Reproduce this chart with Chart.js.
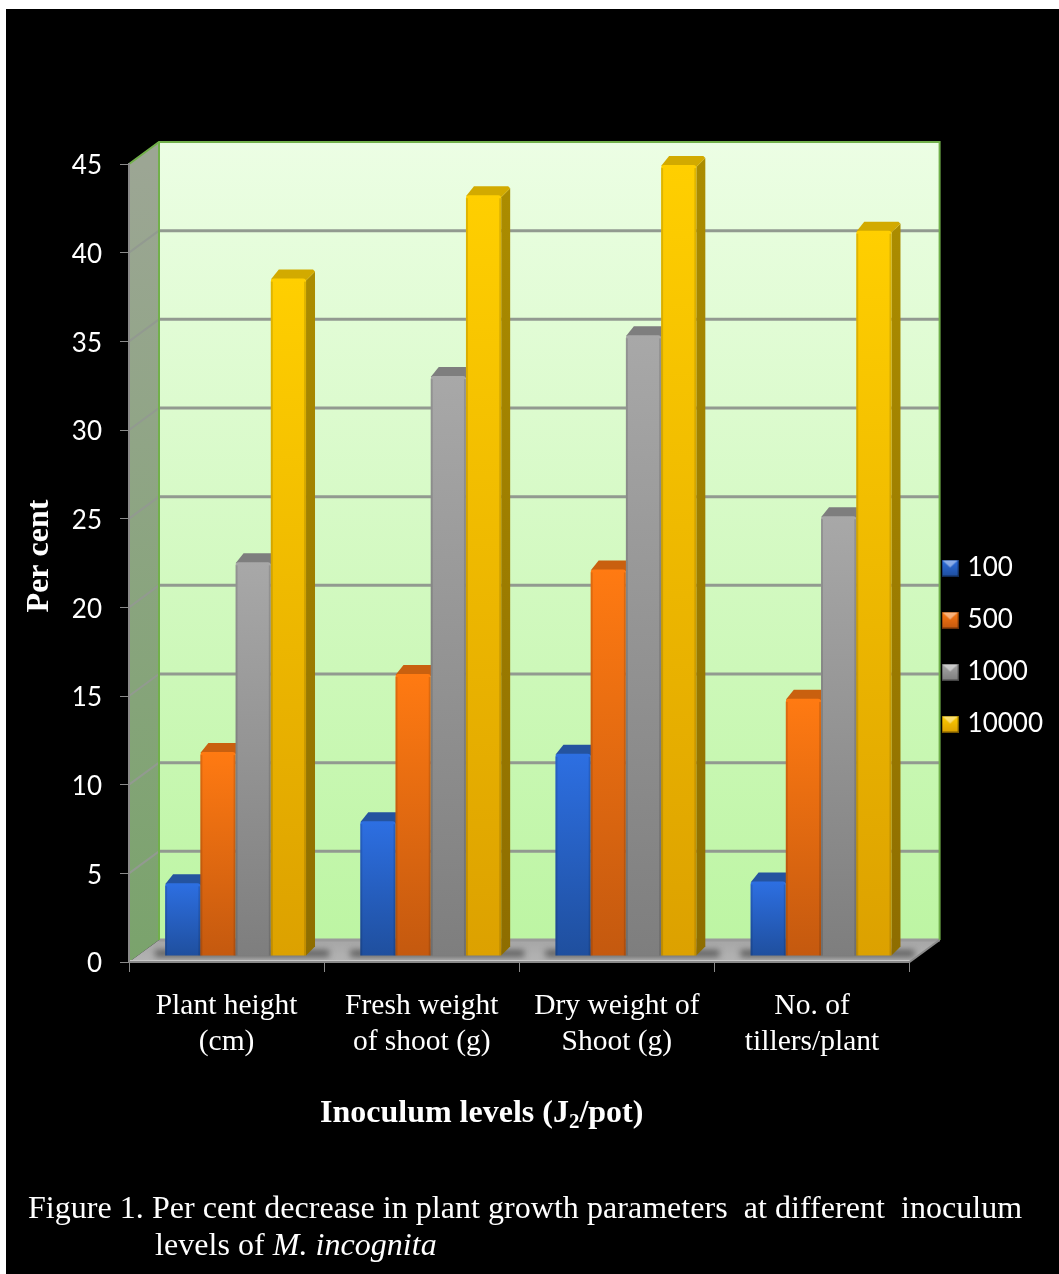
<!DOCTYPE html>
<html>
<head>
<meta charset="utf-8">
<script src="https://cdn.jsdelivr.net/npm/chart.js@4"></script>
<style>
  html, body { margin: 0; padding: 0; background: #fff; overflow: hidden; }
  #frame { position: absolute; left: 6px; top: 9px; width: 1053px; height: 1265px; background: #000; }
  #plot { position: absolute; left: 0; top: 0; display: block; }
  .caption { position: absolute; color: #fff; font-family: "Liberation Serif", serif; font-size: 32px; letter-spacing: 0.04px; line-height: 36px; white-space: pre; }
</style>
</head>
<body>
<div id="frame"></div>
<canvas id="plot" width="1059" height="1274"></canvas>
<div class="caption" style="left:28px; top:1189px;">Figure 1. Per cent decrease in plant growth parameters  at different  inoculum</div>
<div class="caption" style="left:155px; top:1226px;">levels of <i>M. incognita</i></div>
<script>
// Chart content
const categories = [["Plant height", "(cm)"], ["Fresh weight", "of shoot (g)"], ["Dry weight of", "Shoot (g)"], ["No. of", "tillers/plant"]];
const seriesNames = ["100", "500", "1000", "10000"];
const values100 = [4.1, 7.6, 11.4, 4.2];
const values500 = [11.5, 15.9, 21.8, 14.5];
const values1000 = [22.2, 32.7, 35.0, 24.8];
const values10000 = [38.2, 42.9, 44.6, 40.9];
const yTicks = [0, 5, 10, 15, 20, 25, 30, 35, 40, 45];

// Face colours per series: front top, front bottom, side top, side bottom, cap
const palette = [
  ["#2d6fe2", "#1f4f9e", "#1c4a96", "#173c7c", "#24539f"],
  ["#ff7a12", "#c4590f", "#b85410", "#97450d", "#c9600f"],
  ["#a8a8a8", "#7e7e7e", "#6f6f6f", "#5c5c5c", "#7e7e7e"],
  ["#ffcf00", "#dca100", "#ab8c00", "#8e6d00", "#d2aa00"]
];

// Depth of the box and of each bar, in pixels
const WALL_DX = 30, WALL_DY = -22;
const BAR_SHIFT_X = 9, BAR_SHIFT_Y = -6;
const BAR_DX = 9, BAR_DY = -9;

function swatch(colors) {
  const c = document.createElement("canvas");
  c.width = 17; c.height = 17;
  const g = c.getContext("2d");
  const body = g.createLinearGradient(0, 0, 0, 17);
  body.addColorStop(0, colors[0]);
  body.addColorStop(1, colors[1]);
  g.fillStyle = body;
  g.fillRect(0, 0, 17, 17);
  g.fillStyle = "rgba(255,255,255,0.45)";
  g.beginPath(); g.moveTo(1, 1); g.lineTo(16, 1); g.lineTo(8.5, 8); g.closePath(); g.fill();
  g.strokeStyle = "rgba(0,0,0,0.45)";
  g.strokeRect(0.5, 0.5, 16, 16);
  return c;
}

function poly(ctx, pts, fill) {
  ctx.beginPath();
  pts.forEach((p, i) => i ? ctx.lineTo(p[0], p[1]) : ctx.moveTo(p[0], p[1]));
  ctx.closePath();
  ctx.fillStyle = fill;
  ctx.fill();
}

function vGradient(ctx, y0, y1, a, b) {
  const g = ctx.createLinearGradient(0, y0, 0, y1);
  g.addColorStop(0, a);
  g.addColorStop(1, b);
  return g;
}

// Back wall, side wall and floor, placed from the value scale
const boxPlugin = {
  id: "box3d",
  beforeDraw(chart) {
    const { ctx, chartArea: a, scales: { y } } = chart;
    chart.legend.left = a.right + 10;
    const L = a.left, R = a.right, T = y.getPixelForValue(45), B = y.getPixelForValue(0);
    const dx = WALL_DX, dy = WALL_DY;
    ctx.save();
    poly(ctx, [[L + dx, T + dy], [R + dx, T + dy], [R + dx, B + dy], [L + dx, B + dy]],
      vGradient(ctx, T + dy, B + dy, "#ecfee4", "#bdf5a3"));
    poly(ctx, [[L, T], [L + dx, T + dy], [L + dx, B + dy], [L, B]],
      vGradient(ctx, T, B, "#9ca694", "#7aa36c"));
    poly(ctx, [[L, B], [L + dx, B + dy], [R + dx, B + dy], [R, B]],
      vGradient(ctx, B + dy, B, "#a6a6a6", "#b4b4b4"));
    // Contact shadows between bar groups on the floor
    ctx.save();
    ctx.filter = "blur(3px)";
    const meta = chart.getDatasetMeta(0).data;
    const last = chart.getDatasetMeta(3).data;
    meta.forEach((bar, i) => {
      const left = bar.x - bar.width / 2 + BAR_SHIFT_X;
      const right = last[i].x + last[i].width / 2 + BAR_SHIFT_X + BAR_DX;
      ctx.fillStyle = "rgba(40,40,40,0.6)";
      ctx.fillRect(left - 10, B - 12, right - left + 24, 7);
    });
    ctx.restore();
    // Front lip of the floor
    ctx.strokeStyle = "#c8c8c8";
    ctx.lineWidth = 2;
    ctx.beginPath(); ctx.moveTo(L, B - 1); ctx.lineTo(R, B - 1); ctx.stroke();
    // Grid lines across both walls
    ctx.strokeStyle = "#929a90";
    yTicks.forEach(v => {
      if (v === 0 || v === 45) return;
      const py = y.getPixelForValue(v);
      ctx.lineWidth = 2;
      ctx.beginPath(); ctx.moveTo(L, py); ctx.lineTo(L + dx, py + dy); ctx.stroke();
      ctx.lineWidth = 3;
      ctx.beginPath(); ctx.moveTo(L + dx, py + dy); ctx.lineTo(R + dx, py + dy); ctx.stroke();
    });
    ctx.strokeStyle = "#9a9a9a";
    ctx.lineWidth = 3;
    ctx.beginPath(); ctx.moveTo(L + dx, B + dy); ctx.lineTo(R + dx, B + dy); ctx.stroke();
    // Green outline of the walls
    ctx.strokeStyle = "#71b04a";
    ctx.lineWidth = 2;
    ctx.beginPath();
    ctx.moveTo(L, T); ctx.lineTo(L + dx, T + dy); ctx.lineTo(R + dx, T + dy); ctx.lineTo(R + dx, B + dy);
    ctx.moveTo(L + dx, T + dy); ctx.lineTo(L + dx, B + dy);
    ctx.stroke();
    ctx.strokeStyle = "#8a8a8a";
    ctx.beginPath(); ctx.moveTo(R, B); ctx.lineTo(R + dx, B + dy); ctx.stroke();
    ctx.restore();
  },
  // Bars go left to right so each one covers its neighbour's side face
  beforeDatasetsDraw(chart) {
    const { ctx } = chart;
    ctx.save();
    ctx.translate(BAR_SHIFT_X, BAR_SHIFT_Y);
    const n = chart.data.labels.length;
    for (let i = 0; i < n; i++) {
      chart.data.datasets.forEach((ds, d) => {
        const bar = chart.getDatasetMeta(d).data[i];
        const c = palette[d];
        const l = bar.x - bar.width / 2, r = bar.x + bar.width / 2;
        poly(ctx, [[r, bar.y + 2], [r + BAR_DX, bar.y + BAR_DY + 2], [r + BAR_DX, bar.base + BAR_DY], [r, bar.base]],
          vGradient(ctx, bar.y, bar.base, c[2], c[3]));
        poly(ctx, [[l, bar.y + 1], [l + BAR_DX - 1, bar.y + BAR_DY], [r + BAR_DX - 2, bar.y + BAR_DY], [r + BAR_DX, bar.y + BAR_DY + 2], [r, bar.y + 2]], c[4]);
        bar.draw(ctx);
        ctx.fillStyle = "rgba(0,0,0,0.12)";
        ctx.fillRect(l, bar.y + 3, 2, bar.base - bar.y - 3);
        ctx.fillRect(r - 2, bar.y + 3, 2, bar.base - bar.y - 3);
      });
    }
    ctx.restore();
    return false;
  },
  // Axis titles, the horizontal one carrying a subscript
  afterDraw(chart) {
    const { ctx } = chart;
    ctx.save();
    ctx.fillStyle = "#fff";
    ctx.textBaseline = "alphabetic";
    ctx.font = 'bold 32px "Liberation Serif"';
    ctx.save();
    ctx.translate(48, 556);
    ctx.rotate(-Math.PI / 2);
    ctx.textAlign = "center";
    ctx.fillText("Per cent", 0, 0);
    ctx.restore();
    ctx.textAlign = "left";
    const parts = ["Inoculum levels (J", "2", "/pot)"];
    let x = 320;
    ctx.fillText(parts[0], x, 1122);
    x += ctx.measureText(parts[0]).width;
    ctx.font = 'bold 21px "Liberation Serif"';
    ctx.fillText(parts[1], x, 1128);
    x += ctx.measureText(parts[1]).width;
    ctx.font = 'bold 32px "Liberation Serif"';
    ctx.fillText(parts[2], x, 1122);
    ctx.restore();
  }
};

function makeDataset(name, values, index) {
  return {
    label: name,
    data: values,
    borderWidth: 0,
    borderRadius: { topLeft: 3, topRight: 3, bottomLeft: 0, bottomRight: 0 },
    borderSkipped: false,
    backgroundColor(c) {
      const chart = c.chart;
      if (!chart.chartArea || c.parsed === undefined || c.parsed === null) return palette[index][0];
      const yScale = chart.scales.y;
      return vGradient(chart.ctx, yScale.getPixelForValue(c.parsed.y), yScale.getPixelForValue(0), palette[index][0], palette[index][1]);
    }
  };
}

new Chart(document.getElementById("plot"), {
  type: "bar",
  data: {
    labels: categories,
    datasets: [
      makeDataset(seriesNames[0], values100, 0),
      makeDataset(seriesNames[1], values500, 1),
      makeDataset(seriesNames[2], values1000, 2),
      makeDataset(seriesNames[3], values10000, 3)
    ]
  },
  plugins: [boxPlugin],
  options: {
    responsive: false,
    animation: false,
    events: [],
    layout: { padding: { left: 0, right: 16, top: 164, bottom: 146 } },
    datasets: { bar: { categoryPercentage: 0.722, barPercentage: 1 } },
    plugins: {
      tooltip: { enabled: false },
      title: { display: false },
      legend: {
        position: "right",
        labels: {
          color: "#fff",
          font: { family: "Lato", size: 26 },
          padding: 26,
          usePointStyle: true,
          pointStyleWidth: 9,
          generateLabels(chart) {
            return chart.data.datasets.map((ds, i) => ({
              text: ds.label,
              fontColor: "#fff",
              pointStyle: swatch(palette[i]),
              lineWidth: 0,
              hidden: false,
              datasetIndex: i
            }));
          }
        }
      }
    },
    scales: {
      x: {
        afterFit(s) { s.height = 166; },
        grid: { drawOnChartArea: false, drawTicks: true, tickLength: 10, color: "#8a8a8a", offset: true },
        border: { display: true, color: "#8a8a8a", width: 2 },
        ticks: { color: "#fff", padding: 17, maxRotation: 0, font: { family: "Liberation Serif", size: 29.5, lineHeight: 1.2 } }
      },
      y: {
        min: 0,
        max: 45,
        afterFit(s) { s.width = 129; },
        afterBuildTicks(s) { s.ticks = yTicks.map(v => ({ value: v })); },
        grid: { drawOnChartArea: false, drawTicks: true, tickLength: 9, color: "#8a8a8a" },
        border: { display: true, color: "#8a8a8a", width: 2 },
        ticks: { color: "#fff", padding: 18, labelOffset: 2, font: { family: "Lato", size: 26 } }
      }
    }
  }
});
</script>
</body>
</html>
